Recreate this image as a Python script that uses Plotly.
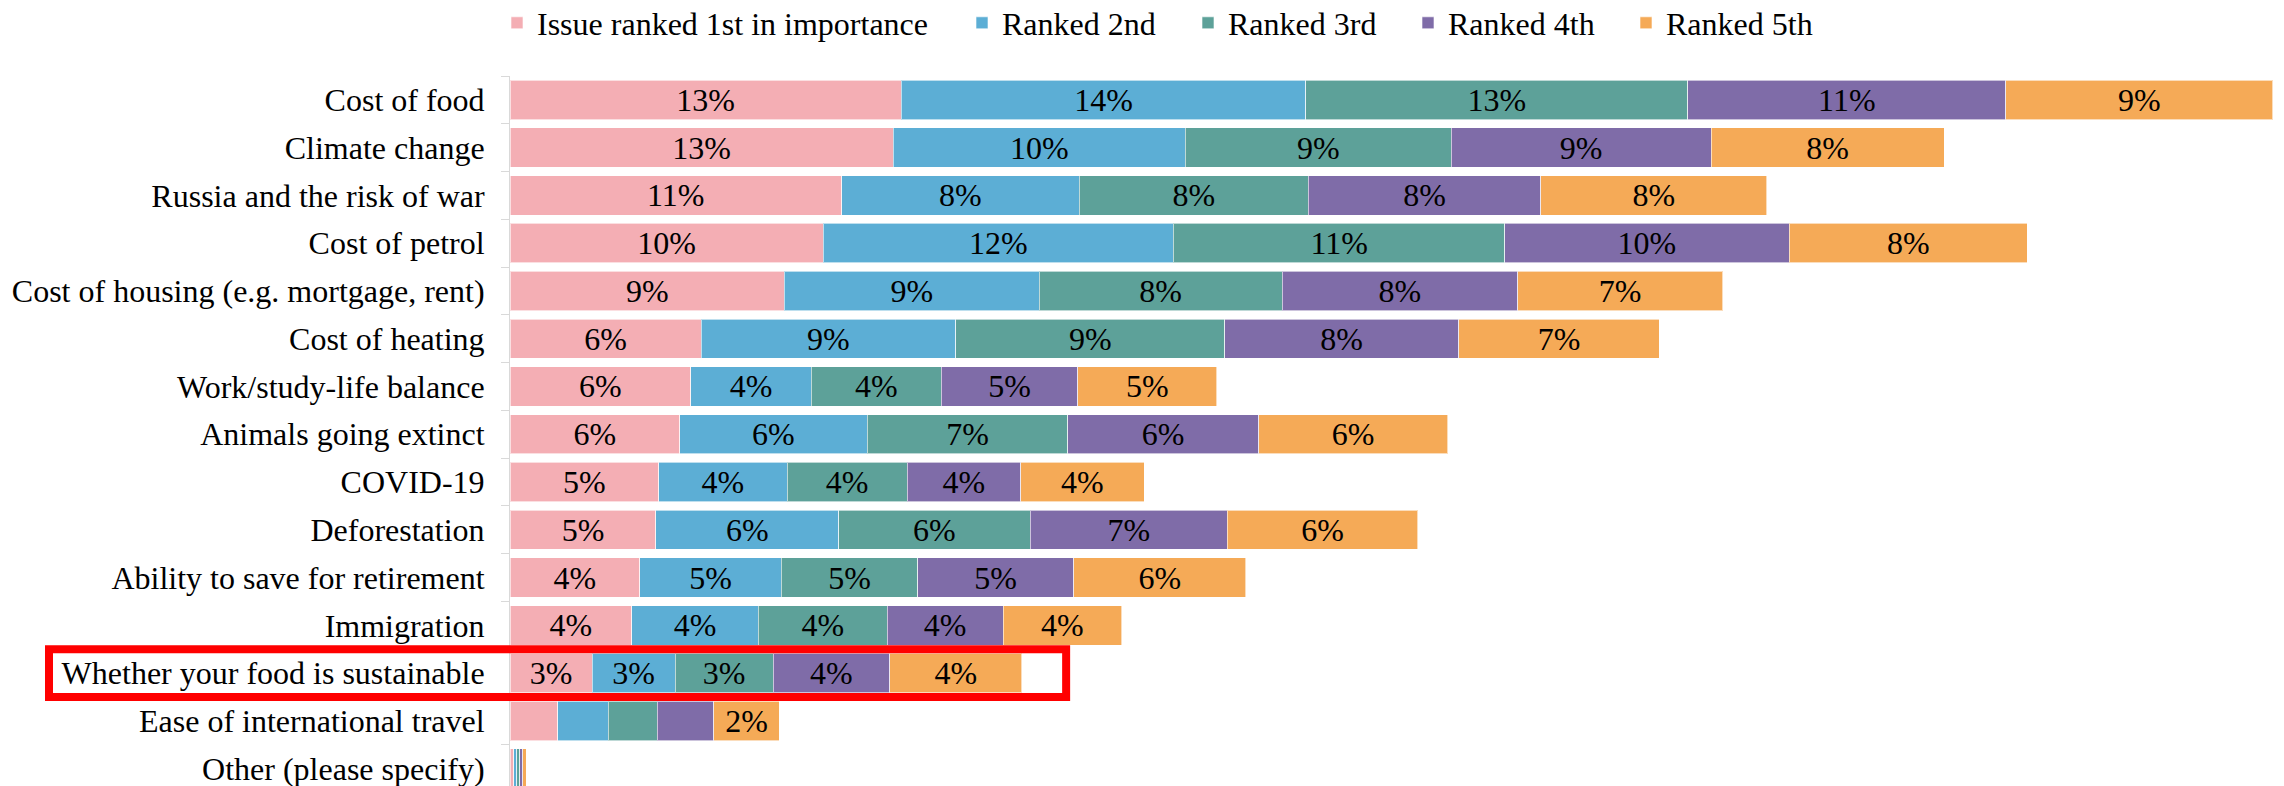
import plotly.graph_objects as go

issues = [
    "Cost of food",
    "Climate change",
    "Russia and the risk of war",
    "Cost of petrol",
    "Cost of housing (e.g. mortgage, rent)",
    "Cost of heating",
    "Work/study-life balance",
    "Animals going extinct",
    "COVID-19",
    "Deforestation",
    "Ability to save for retirement",
    "Immigration",
    "Whether your food is sustainable",
    "Ease of international travel",
    "Other (please specify)",
]

# share of respondents (%) ranking the issue 1st..5th
rank1 = [13.08, 12.82, 11.09, 10.48, 9.18, 6.39, 6.05, 5.67, 4.97, 4.88, 4.34, 4.07, 2.75, 1.60, 0.12]
rank2 = [13.54, 9.77, 7.95, 11.71, 8.52, 8.52, 4.03, 6.28, 4.30, 6.11, 4.74, 4.24, 2.77, 1.69, 0.10]
rank3 = [12.77, 8.89, 7.66, 11.08, 8.12, 8.99, 4.34, 6.70, 4.01, 6.41, 4.55, 4.30, 3.28, 1.63, 0.10]
rank4 = [10.64, 8.69, 7.78, 9.51, 7.88, 7.83, 4.57, 6.39, 3.80, 6.59, 5.22, 3.88, 3.90, 1.90, 0.10]
rank5 = [8.92, 7.79, 7.55, 7.97, 6.86, 6.71, 4.65, 6.32, 4.13, 6.37, 5.76, 3.97, 4.42, 2.19, 0.12]

# data labels as printed on the chart (small segments are unlabelled)
label1 = ["13%", "13%", "11%", "10%", "9%", "6%", "6%", "6%", "5%", "5%", "4%", "4%", "3%", "", ""]
label2 = ["14%", "10%", "8%", "12%", "9%", "9%", "4%", "6%", "4%", "6%", "5%", "4%", "3%", "", ""]
label3 = ["13%", "9%", "8%", "11%", "8%", "9%", "4%", "7%", "4%", "6%", "5%", "4%", "3%", "", ""]
label4 = ["11%", "9%", "8%", "10%", "8%", "8%", "5%", "6%", "4%", "7%", "5%", "4%", "4%", "", ""]
label5 = ["9%", "8%", "8%", "8%", "7%", "7%", "5%", "6%", "4%", "6%", "6%", "4%", "4%", "2%", ""]

series_names = [
    "Issue ranked 1st in importance",
    "Ranked 2nd",
    "Ranked 3rd",
    "Ranked 4th",
    "Ranked 5th",
]
series_colors = ["#F4AEB4", "#5CAED5", "#5DA199", "#7F6CA8", "#F5AA57"]

HIGHLIGHT = "Whether your food is sustainable"

FONT = "Georgia, 'Liberation Serif', serif"
FONT_SIZE = 32

# layout in pixels (the page body adds an 8px margin, so the figure is 8px smaller)
W, H = 2276, 778
PLOT_LEFT, PLOT_RIGHT = 502, 2272
PLOT_TOP = 67.8
PX_PER_PCT = 29.9
ROW_PX = 47.78

x_max = (PLOT_RIGHT - PLOT_LEFT) / PX_PER_PCT
y_bottom = -0.5 + (H - PLOT_TOP) / ROW_PX  # last row is cut off by the frame

# left edge of each legend swatch, and vertical centre of the legend row
legend_swatch_x = [503, 968, 1194, 1414, 1632]
legend_ids = ["legend", "legend2", "legend3", "legend4", "legend5"]
LEGEND_Y = 15

fig = go.Figure()
for name, color, vals, labels, lid in zip(
    series_names,
    series_colors,
    [rank1, rank2, rank3, rank4, rank5],
    [label1, label2, label3, label4, label5],
    legend_ids,
):
    fig.add_trace(
        go.Bar(
            y=issues,
            x=vals,
            orientation="h",
            name=name,
            legend=lid,
            marker=dict(color=color, line=dict(color="rgba(255,255,255,0.6)", width=1)),
            text=labels,
            textposition="inside",
            insidetextanchor="middle",
            textangle=0,
            textfont=dict(family=FONT, size=FONT_SIZE, color="black"),
        )
    )

# red box around the highlighted row
row = issues.index(HIGHLIGHT)
row_total = sum(r[row] for r in [rank1, rank2, rank3, rank4, rank5])
y_span = y_bottom + 0.5


def y_paper(v):
    return (y_bottom - v) / y_span


fig.add_shape(
    type="rect",
    xref="paper",
    yref="paper",
    x0=(41 - PLOT_LEFT) / (PLOT_RIGHT - PLOT_LEFT),
    x1=(row_total + 1.48) / x_max,
    y0=y_paper(row + 0.5),
    y1=y_paper(row - 0.5),
    line=dict(color="#FF0000", width=8),
    fillcolor="rgba(0,0,0,0)",
    layer="above",
)

legends = {}
for lid, sx in zip(legend_ids, legend_swatch_x):
    legends[lid] = dict(
        orientation="h",
        xref="container",
        x=(sx - 14) / W,
        xanchor="left",
        yref="container",
        y=1 - LEGEND_Y / H,
        yanchor="middle",
        font=dict(family=FONT, size=FONT_SIZE),
        bgcolor="rgba(0,0,0,0)",
    )

fig.update_layout(
    width=W,
    height=H,
    barmode="stack",
    bargap=0.175,
    plot_bgcolor="white",
    paper_bgcolor="white",
    font=dict(family=FONT, size=FONT_SIZE, color="black"),
    margin=dict(l=PLOT_LEFT, r=W - PLOT_RIGHT, t=PLOT_TOP, b=0, autoexpand=False),
    uniformtext=dict(mode="show", minsize=FONT_SIZE),
    showlegend=True,
    **legends,
)

fig.update_xaxes(visible=False, range=[0, x_max], showgrid=False, zeroline=False)
fig.update_yaxes(
    type="category",
    categoryorder="array",
    categoryarray=issues,
    range=[y_bottom, -0.5],
    showgrid=False,
    showline=True,
    linecolor="#D9D9D9",
    linewidth=1,
    ticks="outside",
    tickson="boundaries",
    ticklen=8,
    tickcolor="#D9D9D9",
    ticklabelstandoff=18,
    tickfont=dict(family=FONT, size=FONT_SIZE, color="black"),
)

fig.write_html("out.html")
